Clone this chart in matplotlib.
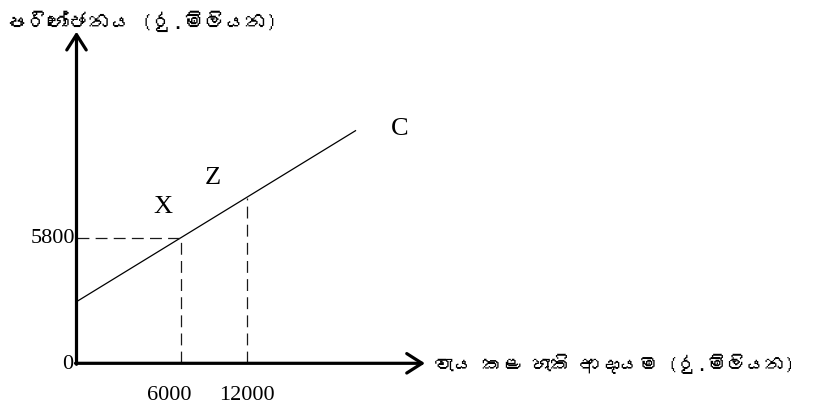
import matplotlib
matplotlib.use("Agg")
import matplotlib.pyplot as plt
from matplotlib import font_manager
from matplotlib.ft2font import FT2Font
import numpy as np

# labels
y_title = "පරිභෝජනය (රු.මිලියන)"
x_title = "වැය කළ හැකි ආදායම (රු.මිලියන)"
point_names = ["X", "Z", "C"]

# schematic diagram, units ~ pixels measured from the origin
income_labels = ["6000", "12000"]
income_pos = [104.5, 170.0]
cons_label = "5800"
line_x = [0.0, 279.0]
line_y = [61.6, 232.6]


def sinhala_fonts():
    found = []
    for f in font_manager.fontManager.ttflist:
        try:
            if 0x0DB4 in FT2Font(f.fname).get_charmap():
                if f.name not in found:
                    found.append(f.name)
        except Exception:
            pass
    return found


sin_family = sinhala_fonts() + ["DejaVu Sans"]
serif = "Liberation Serif"

fig = plt.figure(figsize=(8.15, 4.10), dpi=100)
ax = fig.add_axes([0, 0, 1, 1])
ax.set_xlim(-76.5, 815 - 76.5)
ax.set_ylim(-(410 - 364.3), 364.3)
ax.axis("off")

# axes with arrows
arrow = dict(arrowstyle="->,head_length=1.1,head_width=0.7", lw=2.3,
             color="black", mutation_scale=10, shrinkA=0, shrinkB=0)
ax.annotate("", xy=(0, 331.6), xytext=(0, -1), arrowprops=arrow)
ax.annotate("", xy=(348.5, 0), xytext=(-1, 0), arrowprops=arrow)

# consumption function
ax.plot(line_x, line_y, color="black", lw=0.9)

# dashed guides
y_at = np.interp(income_pos, line_x, line_y)
ax.plot([0, income_pos[0]], [y_at[0], y_at[0]], color="#1a1a1a", lw=0.9,
        dashes=(9.5, 5))
for xp, yp in zip(income_pos, y_at):
    ax.plot([xp, xp], [0, yp], color="#1a1a1a", lw=0.9, dashes=(9.5, 5))

# tick labels
ax.text(-3, 0, "0", ha="right", va="center", fontsize=16, family=serif)
ax.text(-1, y_at[0], cons_label, ha="right", va="center", fontsize=16,
        family=serif)
ax.text(income_pos[0] - 12, -31, income_labels[0], ha="center", va="center",
        fontsize=16, family=serif)
ax.text(income_pos[1], -31, income_labels[1], ha="center", va="center",
        fontsize=16, family=serif)

# point labels
for name, (px, py) in zip(point_names, [(86.5, 157.3), (136.5, 186.3),
                                        (323.5, 235.3)]):
    ax.text(px, py, name, ha="center", va="center", fontsize=19, family=serif)

# axis titles
ax.text(-71, 343, y_title, ha="left", va="center", fontsize=15,
        family=sin_family)
ax.text(358, 0, x_title, ha="left", va="center", fontsize=14,
        family=sin_family)

fig.savefig("out.png", dpi=100, facecolor="white")
